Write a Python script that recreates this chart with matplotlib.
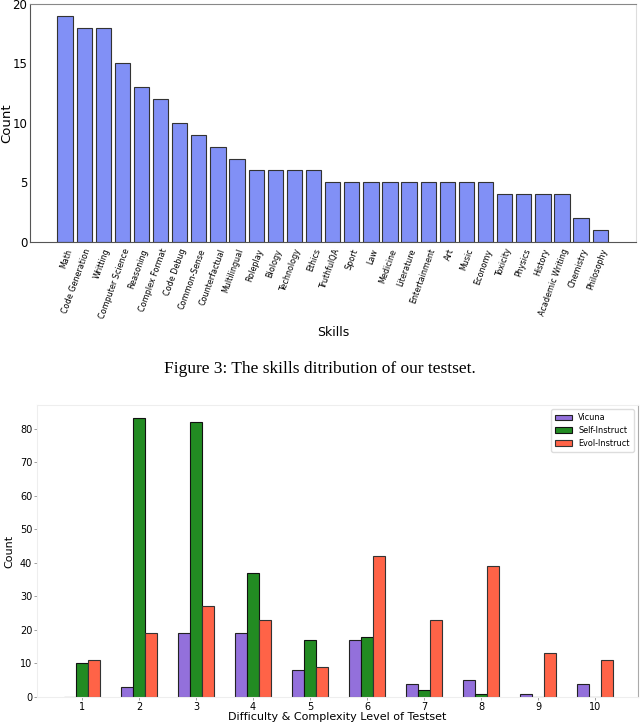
import numpy as np
import matplotlib
matplotlib.use("Agg")
from matplotlib import pyplot as plt

# skills distribution (top)
skills = ["Math", "Code Generation", "Writting", "Computer Science", "Reasoning",
          "Complex Format", "Code Debug", "Common-Sense", "Counterfactual",
          "Multilingual", "Roleplay", "Biology", "Technology", "Ethics",
          "TruthfulQA", "Sport", "Law", "Medicine", "Literature", "Entertainment",
          "Art", "Music", "Economy", "Toxicity", "Physics", "History",
          "Academic Writing", "Chemistry", "Philosophy"]
skill_counts = [19, 18, 18, 15, 13, 12, 10, 9, 8, 7, 6, 6, 6, 6,
                5, 5, 5, 5, 5, 5, 5, 5, 5, 4, 4, 4, 4, 2, 1]

# difficulty levels (bottom)
levels = [1, 2, 3, 4, 5, 6, 7, 8, 9, 10]
vicuna = [0, 3, 19, 19, 8, 17, 4, 5, 1, 4]
self_instruct = [10, 83, 82, 37, 17, 18, 2, 1, 0, 0]
evol_instruct = [11, 19, 27, 23, 9, 42, 23, 39, 13, 11]

fig = plt.figure(figsize=(6.4, 7.22), dpi=100)

# top chart
ax1 = fig.add_axes([0.047, 0.665, 0.947, 0.3296])
x1 = np.arange(len(skills))
ax1.bar(x1, skill_counts, width=0.8, color="#8190f6", edgecolor="#333333", linewidth=0.8)
ax1.set_xlim(-1.83, len(skills) - 1 + 1.88)
ax1.set_ylim(0, 20)
ax1.set_yticks([0, 5, 10, 15, 20])
ax1.tick_params(axis="y", labelsize=8.5, length=0, pad=2)
ax1.set_xticks(x1)
ax1.set_xticklabels(skills, rotation=70, ha="right", rotation_mode="anchor", fontsize=5.8)
ax1.tick_params(axis="x", length=0, pad=4)
ax1.set_ylabel("Count", fontsize=9.5)
ax1.yaxis.set_label_coords(-0.028, 0.5)
ax1.set_xlabel("Skills", fontsize=9)
ax1.xaxis.set_label_coords(0.5, -0.355)
for s in ["left", "bottom"]:
    ax1.spines[s].set_color("#555555")
ax1.spines["top"].set_color("#888888")
ax1.spines["right"].set_color("#dddddd")

# caption
fig.text(0.5, 1 - 369 / 722, "Figure 3: The skills ditribution of our testset.",
         ha="center", va="center", fontsize=12.5, family="Liberation Serif")

# bottom chart
ax2 = fig.add_axes([0.0578, 0.0346, 0.939, 0.4044])
x2 = np.array(levels)
w = 0.21
ax2.bar(x2 - w, vicuna, width=w, color="mediumpurple", edgecolor="#222222", linewidth=0.8, label="Vicuna")
ax2.bar(x2, self_instruct, width=w, color="forestgreen", edgecolor="#111111", linewidth=0.8, label="Self-Instruct")
ax2.bar(x2 + w, evol_instruct, width=w, color="tomato", edgecolor="#333333", linewidth=0.8, label="Evol-Instruct")
ax2.set_xlim(0.21, 10.75)
ax2.set_ylim(0, 87)
ax2.set_xticks(levels)
ax2.set_yticks(range(0, 90, 10))
ax2.tick_params(labelsize=7, length=2, width=0.5, pad=1.5, color="#777777")
ax2.set_ylabel("Count", fontsize=8, labelpad=4)
ax2.set_xlabel("Difficulty & Complexity Level of Testset", fontsize=8, labelpad=0)
ax2.legend(loc="upper right", fontsize=5.9, framealpha=1, edgecolor="#dddddd",
           handlelength=2.0, borderpad=0.5, labelspacing=0.45)
for s in ["left", "bottom", "top"]:
    ax2.spines[s].set_color("#eeeeee")
ax2.spines["right"].set_color("#aaaaaa")

fig.savefig("out.png", dpi=100)
